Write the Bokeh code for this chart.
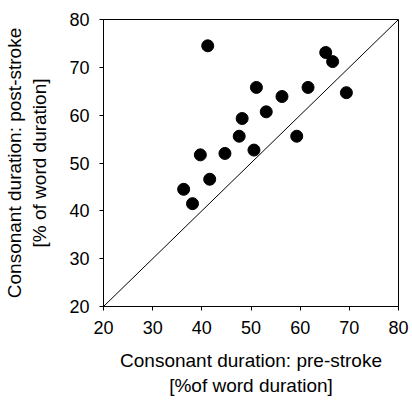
from bokeh.plotting import figure
from bokeh.models import Slope, FixedTicker, Range1d
from bokeh.embed import file_html
from bokeh.resources import INLINE

# Consonant duration (% of word duration)
pre_stroke = [41.2, 65.2, 66.6, 51.1, 61.6, 69.4, 56.3, 53.1, 48.2, 47.6, 59.3, 50.6, 44.7, 39.7, 41.6, 36.3, 38.1]
post_stroke = [74.5, 73.1, 71.2, 65.8, 65.8, 64.7, 63.9, 60.7, 59.3, 55.6, 55.6, 52.7, 52.0, 51.7, 46.6, 44.5, 41.5]
ticks = [20, 30, 40, 50, 60, 70, 80]

FONT = "Liberation Sans"

p = figure(width=412, height=401, output_backend="svg", toolbar_location=None,
           x_range=Range1d(20, 80), y_range=Range1d(20, 80),
           min_border_left=103, min_border_right=14, min_border_top=19, min_border_bottom=95)

p.xgrid.visible = False
p.ygrid.visible = False
p.outline_line_color = "black"
p.outline_line_width = 1
p.background_fill_color = "white"
p.border_fill_color = "white"

p.add_layout(Slope(gradient=1, y_intercept=0, line_color="black", line_width=1))
p.scatter(pre_stroke, post_stroke, size=12, color="black")

for ax in (p.xaxis[0], p.yaxis[0]):
    ax.ticker = FixedTicker(ticks=ticks)
    ax.minor_tick_line_color = None
    ax.major_tick_in = 0
    ax.major_tick_out = 4
    ax.axis_line_color = "black"
    ax.major_tick_line_color = "black"
    ax.major_label_text_font = FONT
    ax.major_label_text_font_size = "18px"
    ax.major_label_text_color = "black"
    ax.axis_label_text_font = FONT
    ax.axis_label_text_font_size = "19px"
    ax.axis_label_text_font_style = "normal"
    ax.axis_label_text_color = "black"

p.xaxis.axis_label = "Consonant duration: pre-stroke\n[%of word duration]"
p.yaxis.axis_label = "Consonant duration: post-stroke\n[% of word duration]"
p.xaxis.major_label_standoff = 10
p.yaxis.major_label_standoff = 10
p.xaxis.axis_label_standoff = 13
p.yaxis.axis_label_standoff = 16

open("out.html", "w").write(file_html(p, INLINE))
